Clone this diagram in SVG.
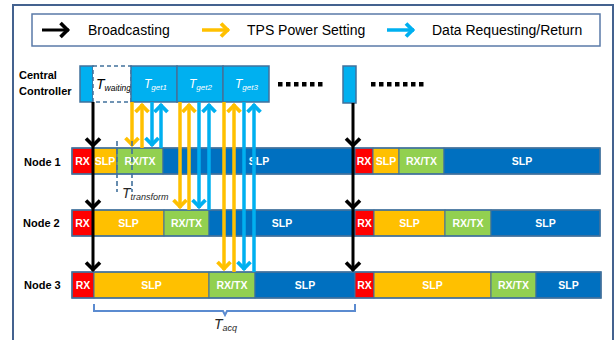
<svg xmlns="http://www.w3.org/2000/svg" width="616" height="340" viewBox="0 0 616 340">
<style>
.lg{font-family:"Liberation Sans",Arial,sans-serif;font-size:14px;fill:#000}
.nl{font-family:"Liberation Sans",Arial,sans-serif;font-size:11px;font-weight:bold;fill:#000}
.bt{font-family:"Liberation Sans",Arial,sans-serif;font-size:10.5px;font-weight:bold;fill:#fff;text-anchor:middle}
.seg{stroke:#41719c;stroke-width:1}
.rx{fill:#ff0000}.or{fill:#ffc000}.gr{fill:#92d050}.bl{fill:#0070c0}
.cc{fill:#00b0f0;stroke:#41719c;stroke-width:1.5}
.it{font-family:"Liberation Sans",Arial,sans-serif;font-style:italic}
.dash{stroke:#41719c;stroke-width:1.6;stroke-dasharray:5,3;fill:none}
.ab{stroke:#000;stroke-width:3;fill:none}
.ao{stroke:#ffc000;stroke-width:3.5;fill:none}
.ac{stroke:#00b0f0;stroke-width:3.5;fill:none}
.dot{fill:#000}
</style>
<defs>
<marker id="hb" markerUnits="userSpaceOnUse" viewBox="-12 -10 16 20" markerWidth="16" markerHeight="20" refX="0" refY="0" orient="auto"><path d="M-8.5,-7 L-1.5,0 L-8.5,7" fill="none" stroke="#000" stroke-width="3.6"/></marker>
<marker id="ho" markerUnits="userSpaceOnUse" viewBox="-12 -10 16 20" markerWidth="16" markerHeight="20" refX="0" refY="0" orient="auto"><path d="M-8,-6.5 L-1.5,0 L-8,6.5" fill="none" stroke="#ffc000" stroke-width="3.8"/></marker>
<marker id="hc" markerUnits="userSpaceOnUse" viewBox="-12 -10 16 20" markerWidth="16" markerHeight="20" refX="0" refY="0" orient="auto"><path d="M-8,-6.5 L-1.5,0 L-8,6.5" fill="none" stroke="#00b0f0" stroke-width="3.8"/></marker>
</defs>
<rect width="616" height="340" fill="#fff"/>
<path d="M13,341 V5 H613 V341" fill="none" stroke="#44628f" stroke-width="2"/>
<g id="legend">
<rect x="32" y="14" width="568" height="32" fill="#fff" stroke="#5a7aa8" stroke-width="1.5"/>
<line x1="42" y1="30" x2="69" y2="30" class="ab" stroke-width="3.5" marker-end="url(#hb)"/>
<text class="lg" x="88" y="35">Broadcasting</text>
<line x1="202" y1="30" x2="229" y2="30" class="ao" marker-end="url(#ho)"/>
<text class="lg" x="247" y="35">TPS Power Setting</text>
<line x1="387" y1="30" x2="414" y2="30" class="ac" marker-end="url(#hc)"/>
<text class="lg" x="432" y="35">Data Requesting/Return</text>
</g>
<g id="controller">
<text class="nl" x="19" y="79">Central</text>
<text class="nl" x="19" y="95">Controller</text>
<rect class="cc" x="80" y="66" width="13" height="36"/>
<rect x="93" y="66" width="38" height="36" fill="#fff" stroke="#41719c" stroke-width="1.5" stroke-dasharray="4,3"/>
<text class="it" x="96" y="89" font-size="14" fill="#000">T<tspan font-size="8.5" dy="2">waiting</tspan></text>
<rect class="cc" x="131" y="66" width="46" height="36"/>
<text class="it" x="144" y="88" font-size="12" fill="#fff">T<tspan font-size="8" dy="2">get1</tspan></text>
<rect class="cc" x="177" y="66" width="46" height="36"/>
<text class="it" x="189" y="88" font-size="12" fill="#fff">T<tspan font-size="8" dy="2">get2</tspan></text>
<rect class="cc" x="223" y="66" width="46" height="36"/>
<text class="it" x="235" y="88" font-size="12" fill="#fff">T<tspan font-size="8" dy="2">get3</tspan></text>
<g class="dot">
<rect x="278" y="82" width="4.5" height="4.5"/><rect x="286" y="82" width="4.5" height="4.5"/><rect x="294" y="82" width="4.5" height="4.5"/><rect x="302" y="82" width="4.5" height="4.5"/><rect x="310" y="82" width="4.5" height="4.5"/><rect x="318" y="82" width="4.5" height="4.5"/>
</g>
<rect class="cc" x="343" y="66" width="13" height="37"/>
<g class="dot">
<rect x="371" y="82" width="4.5" height="4.5"/><rect x="379" y="82" width="4.5" height="4.5"/><rect x="387" y="82" width="4.5" height="4.5"/><rect x="395" y="82" width="4.5" height="4.5"/><rect x="403" y="82" width="4.5" height="4.5"/><rect x="411" y="82" width="4.5" height="4.5"/><rect x="419" y="82" width="4.5" height="4.5"/>
</g>
</g>
<g id="node1">
<text class="nl" x="24" y="166">Node 1</text>
<rect class="seg rx" x="72" y="148" width="21" height="26"/>
<rect class="seg or" x="93" y="148" width="24" height="26"/>
<rect class="seg gr" x="117" y="148" width="46" height="26"/>
<rect class="seg bl" x="163" y="148" width="192" height="26"/>
<rect class="seg rx" x="355" y="148" width="18" height="26"/>
<rect class="seg or" x="373" y="148" width="26" height="26"/>
<rect class="seg gr" x="399" y="148" width="45" height="26"/>
<rect class="seg bl" x="444" y="148" width="156" height="26"/>
<rect x="72" y="148" width="528" height="26" fill="none" stroke="#41719c" stroke-width="1.5"/>
<text class="bt" x="82.5" y="165">RX</text><text class="bt" x="105" y="165">SLP</text><text class="bt" x="140" y="165">RX/TX</text><text class="bt" x="259" y="165">SLP</text>
<text class="bt" x="364" y="165">RX</text><text class="bt" x="386" y="165">SLP</text><text class="bt" x="421.5" y="165">RX/TX</text><text class="bt" x="522" y="165">SLP</text>
</g>
<g id="node2">
<text class="nl" x="23" y="227">Node 2</text>
<rect class="seg rx" x="72" y="210" width="21" height="26"/>
<rect class="seg or" x="93" y="210" width="71" height="26"/>
<rect class="seg gr" x="164" y="210" width="45" height="26"/>
<rect class="seg bl" x="209" y="210" width="146" height="26"/>
<rect class="seg rx" x="355" y="210" width="19" height="26"/>
<rect class="seg or" x="374" y="210" width="71" height="26"/>
<rect class="seg gr" x="445" y="210" width="46" height="26"/>
<rect class="seg bl" x="491" y="210" width="109" height="26"/>
<rect x="72" y="210" width="528" height="26" fill="none" stroke="#41719c" stroke-width="1.5"/>
<text class="bt" x="82.5" y="227">RX</text><text class="bt" x="128.5" y="227">SLP</text><text class="bt" x="186.5" y="227">RX/TX</text><text class="bt" x="282" y="227">SLP</text>
<text class="bt" x="364.5" y="227">RX</text><text class="bt" x="409.5" y="227">SLP</text><text class="bt" x="468" y="227">RX/TX</text><text class="bt" x="545.5" y="227">SLP</text>
</g>
<g id="node3">
<text class="nl" x="24" y="289">Node 3</text>
<rect class="seg rx" x="72" y="272" width="22" height="26"/>
<rect class="seg or" x="94" y="272" width="115" height="26"/>
<rect class="seg gr" x="209" y="272" width="46" height="26"/>
<rect class="seg bl" x="255" y="272" width="100" height="26"/>
<rect class="seg rx" x="355" y="272" width="19" height="26"/>
<rect class="seg or" x="374" y="272" width="117" height="26"/>
<rect class="seg gr" x="491" y="272" width="45" height="26"/>
<rect class="seg bl" x="536" y="272" width="65" height="26"/>
<rect x="72" y="272" width="529" height="26" fill="none" stroke="#41719c" stroke-width="1.5"/>
<text class="bt" x="83" y="289">RX</text><text class="bt" x="151.5" y="289">SLP</text><text class="bt" x="232" y="289">RX/TX</text><text class="bt" x="305" y="289">SLP</text>
<text class="bt" x="364.5" y="289">RX</text><text class="bt" x="432.5" y="289">SLP</text><text class="bt" x="513.5" y="289">RX/TX</text><text class="bt" x="568.5" y="289">SLP</text>
</g>
<g id="connectors">
<line class="ab" x1="93" y1="102" x2="93" y2="147" marker-end="url(#hb)"/>
<line class="ab" x1="93" y1="147" x2="93" y2="209" marker-end="url(#hb)"/>
<line class="ab" x1="93" y1="209" x2="93" y2="271" marker-end="url(#hb)"/>
<line class="ab" x1="353" y1="103" x2="353" y2="147" marker-end="url(#hb)"/>
<line class="ab" x1="353" y1="147" x2="353" y2="209" marker-end="url(#hb)"/>
<line class="ab" x1="353" y1="209" x2="353" y2="271" marker-end="url(#hb)"/>
<line class="ao" x1="132" y1="102" x2="132" y2="146" marker-end="url(#ho)"/>
<line class="ao" x1="142" y1="148" x2="142" y2="104" marker-end="url(#ho)"/>
<line class="ac" x1="152" y1="102" x2="152" y2="146" marker-end="url(#hc)"/>
<line class="ac" x1="161" y1="148" x2="161" y2="104" marker-end="url(#hc)"/>
<line class="ao" x1="180" y1="102" x2="180" y2="208" marker-end="url(#ho)"/>
<line class="ao" x1="189" y1="210" x2="189" y2="104" marker-end="url(#ho)"/>
<line class="ac" x1="199" y1="102" x2="199" y2="208" marker-end="url(#hc)"/>
<line class="ac" x1="209" y1="210" x2="209" y2="104" marker-end="url(#hc)"/>
<line class="ao" x1="224" y1="102" x2="224" y2="270" marker-end="url(#ho)"/>
<line class="ao" x1="234" y1="272" x2="234" y2="104" marker-end="url(#ho)"/>
<line class="ac" x1="244" y1="102" x2="244" y2="270" marker-end="url(#hc)"/>
<line class="ac" x1="254" y1="272" x2="254" y2="104" marker-end="url(#hc)"/>
<line class="dash" x1="117" y1="141" x2="117" y2="192"/>
<line class="dash" x1="132" y1="141" x2="132" y2="192"/>
<text class="it" x="122" y="198" font-size="14" fill="#262626">T<tspan font-size="9" dy="2">transform</tspan></text>
<path d="M94,304 V311 H223 L225,315 L227,311 H355 V304" fill="none" stroke="#5b8bd0" stroke-width="2"/>
<text class="it" x="214" y="329" font-size="14" fill="#262626">T<tspan font-size="9" dy="2">acq</tspan></text>
</g>
</svg>
